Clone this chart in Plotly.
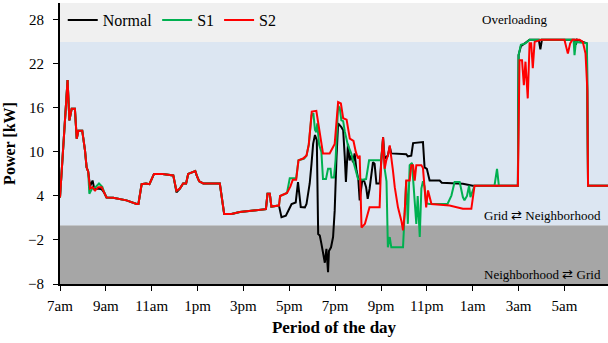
import plotly.graph_objects as go

# Hours elapsed since 7am and household power in kW
t_normal = [0.0, 0.2, 0.25, 0.33, 0.41, 0.51, 0.65, 0.73, 0.80, 0.97, 1.09, 1.16, 1.23, 1.31, 1.42, 1.5,
            1.65, 1.82, 1.92, 2.03, 2.32, 2.9, 3.34, 3.42, 3.56, 3.75, 3.9, 4.1, 4.47, 4.94, 5.08, 5.23,
            5.37, 5.5, 5.59, 5.81, 5.9, 5.96, 6.07, 6.25, 6.97, 7.16, 7.48, 7.84, 8.5, 8.86, 8.98, 9.05,
            9.15, 9.22, 9.51, 9.55, 9.66, 9.85, 10.0, 10.1, 10.28, 10.38, 10.5, 10.68, 10.75, 10.8, 10.89,
            10.97, 11.04, 11.12, 11.2, 11.26, 11.33, 11.4, 11.47, 11.55, 11.62, 11.69, 11.73, 11.82, 11.91,
            11.98, 12.06, 12.13, 12.27, 12.35, 12.42, 12.47, 12.56, 12.63, 12.7, 12.78, 12.85, 12.93, 13.01,
            13.07, 13.18, 13.27, 13.35, 13.42, 13.5, 13.58, 13.65, 13.72, 13.8, 13.94, 14.01, 14.09, 14.16,
            14.3, 14.38, 14.45, 15.1, 15.17, 15.32, 15.4, 15.83, 15.9, 16.0, 16.12, 16.56, 16.65, 17.57,
            18.0, 19.97, 20.0, 20.1, 20.48, 20.88, 20.95, 21.02, 22.45, 22.5, 22.55, 22.98, 23.03, 23.9]
p_normal = [3.8, 13.5, 17.0, 19.8, 14.3, 15.9, 15.9, 11.8, 12.9, 12.9, 10.2, 7.9, 7.3, 5.3, 6.1, 4.9,
            5.0, 4.9, 4.5, 3.8, 3.75, 3.4, 2.9, 2.9, 5.6, 5.7, 5.6, 7.0, 7.0, 6.8, 4.5, 5.0,
            5.7, 5.7, 7.0, 7.3, 7.4, 6.8, 6.0, 5.7, 5.7, 1.55, 1.55, 1.8, 2.0, 2.2, 2.2, 4.3,
            4.3, 2.55, 2.7, 2.7, 1.1, 1.3, 2.25, 2.9, 3.1, 5.9, 2.5, 2.45, 2.9, 3.85, 5.7,
            8.4, 11.1, 12.3, 11.6, -1.2, -1.4, -2.5, -3.9, -5.1, -3.2, -6.4, -3.5, -3.0, -1.6,
            2.0, 9.3, 13.9, 13.4, 12.95, 9.3, 5.9, 11.1, 8.85, 9.5, 8.6, 9.8, 7.5, 6.3,
            3.4, 6.1, 6.0, 5.2, 3.6, 4.95, 7.25, 8.6, 8.4, 5.7, 5.7, 8.85, 12.0, 9.1,
            9.5, 10.7, 9.8, 9.7, 9.4, 9.5, 11.2, 11.35, 7.9, 7.7, 6.1, 6.1, 5.8, 5.65,
            5.4, 5.4, 23.2, 24.4, 25.3, 25.3, 24.0, 25.3, 25.3, 24.6, 25.3, 24.8, 5.4, 5.4]

t_s1 = [0.0, 0.2, 0.25, 0.33, 0.41, 0.51, 0.65, 0.73, 0.80, 0.97, 1.09, 1.16, 1.23, 1.28, 1.4, 1.55,
        1.7, 1.85, 1.95, 2.03, 2.32, 2.9, 3.34, 3.42, 3.56, 3.75, 3.9, 4.1, 4.47, 4.94, 5.08, 5.23,
        5.37, 5.5, 5.59, 5.81, 5.9, 5.96, 6.07, 6.25, 6.97, 7.16, 7.48, 7.84, 8.5, 8.86, 8.98, 9.05,
        9.15, 9.22, 9.51, 9.55, 9.6, 9.9, 10.02, 10.3, 10.4, 10.65, 10.75, 10.85, 10.97, 11.05, 11.12,
        11.18, 11.22, 11.3, 11.4, 11.47, 11.6, 11.69, 11.8, 11.84, 11.95, 12.02, 12.13, 12.2, 12.27,
        12.35, 12.42, 12.55, 12.7, 12.85, 13.0, 13.2, 13.35, 13.48, 14.0, 14.09, 14.16, 14.24, 14.3,
        14.38, 14.45, 14.96, 15.0, 15.1, 15.17, 15.25, 15.35, 15.45, 15.54, 15.6, 15.69, 15.76, 15.83,
        15.9, 15.97, 16.1, 16.9, 17.07, 17.21, 17.43, 17.57, 17.64, 17.75, 17.84, 17.9, 18.08, 18.95,
        19.06, 19.14, 19.97, 20.0, 20.1, 20.3, 20.48, 22.4, 22.44, 22.5, 22.98, 23.03, 23.9]
p_s1 = [3.8, 13.5, 17.0, 19.8, 14.3, 15.9, 15.9, 11.8, 12.9, 12.9, 10.2, 7.9, 7.3, 4.3, 5.0, 5.2,
        5.7, 5.2, 4.3, 3.8, 3.75, 3.4, 2.9, 2.9, 5.6, 5.7, 5.6, 7.0, 7.0, 6.8, 4.7, 5.0,
        5.7, 5.7, 7.0, 7.3, 7.4, 6.8, 6.0, 5.7, 5.7, 1.55, 1.55, 1.8, 2.0, 2.2, 2.2, 4.3,
        4.3, 2.55, 2.7, 2.7, 4.0, 4.4, 6.4, 6.4, 8.85, 9.1, 9.5, 11.0, 15.0, 15.3, 13.0,
        12.7, 13.9, 11.0, 10.0, 6.3, 6.3, 7.7, 7.7, 6.5, 6.5, 9.0, 16.3, 16.0, 14.3,
        14.2, 12.8, 11.0, 9.8, 8.0, 6.3, 6.2, 6.3, 8.85, 8.85, 11.6, 7.7, 6.0, -3.0,
        -1.6, -3.0, -3.0, 0.2, 6.1, 0.2, 8.2, 8.5, 4.0, 0.2, 4.0, -1.6, 5.0, 6.0,
        5.3, 3.0, 2.9, 2.9, 4.05, 5.9, 5.9, 3.85, 3.4, 4.0, 5.4, 3.85, 5.4, 5.4,
        7.7, 5.4, 5.4, 23.2, 24.6, 24.8, 25.3, 25.3, 23.2, 25.0, 24.8, 5.4, 5.4]

t_s2 = [0.0, 0.2, 0.25, 0.33, 0.41, 0.51, 0.65, 0.73, 0.80, 0.97, 1.09, 1.16, 1.23, 1.31, 1.41, 1.53,
        1.67, 1.82, 1.92, 2.03, 2.32, 2.9, 3.34, 3.42, 3.56, 3.75, 3.9, 4.1, 4.47, 4.94, 5.08, 5.23,
        5.37, 5.5, 5.59, 5.81, 5.9, 5.96, 6.07, 6.25, 6.97, 7.16, 7.48, 7.84, 8.5, 8.86, 8.98, 9.05,
        9.15, 9.22, 9.51, 9.55, 9.6, 9.9, 10.05, 10.15, 10.3, 10.4, 10.6, 10.75, 10.85, 10.98, 11.18,
        11.26, 11.4, 11.47, 11.76, 11.98, 12.13, 12.25, 12.35, 12.5, 12.64, 12.8, 12.9, 13.0, 13.07,
        13.15, 13.3, 13.5, 13.94, 14.01, 14.09, 14.16, 14.23, 14.3, 14.38, 14.45, 14.52, 14.6, 14.74,
        14.89, 14.96, 15.03, 15.1, 15.25, 15.32, 15.4, 15.47, 15.54, 15.76, 15.83, 15.9, 15.97, 16.05,
        16.12, 16.2, 16.99, 17.57, 17.94, 18.08, 19.97, 20.04, 20.15, 20.23, 20.3, 20.4, 20.48, 20.55,
        20.62, 20.7, 20.99, 22.0, 22.15, 22.25, 22.35, 22.66, 22.8, 22.92, 23.0, 23.03, 23.9]
p_s2 = [3.8, 13.5, 17.0, 19.8, 14.3, 15.9, 15.9, 11.8, 12.9, 12.9, 10.2, 7.9, 7.3, 5.0, 5.2, 4.75,
        5.2, 5.2, 4.5, 3.8, 3.75, 3.4, 2.9, 2.9, 5.6, 5.7, 5.6, 7.0, 7.0, 6.8, 4.7, 5.0,
        5.7, 5.7, 7.0, 7.3, 7.4, 6.8, 6.0, 5.7, 5.7, 1.55, 1.55, 1.8, 2.0, 2.2, 2.2, 4.3,
        4.3, 2.55, 2.7, 2.7, 4.0, 4.4, 5.3, 6.2, 6.2, 8.85, 9.1, 9.5, 11.0, 15.5, 15.6,
        13.9, 11.1, 9.8, 9.8, 11.1, 16.8, 16.6, 14.6, 14.4, 11.8, 11.5, 10.0, 9.1, 9.5,
        -0.3, 0.2, 2.45, 2.45, 8.85, 12.0, 7.7, 8.85, 9.5, 10.9, 9.5, 7.5, 5.2, 2.45,
        0.6, -0.7, 1.55, 6.1, 6.1, 8.2, 8.2, 6.1, 8.2, 8.2, 7.8, 4.75, 2.45, 4.75,
        4.0, 2.9, 2.7, 2.25, 2.25, 5.4, 5.4, 22.5, 22.5, 19.1, 22.3, 17.3, 24.8, 24.8,
        21.4, 25.0, 25.3, 25.3, 23.4, 24.8, 25.3, 25.3, 25.0, 23.4, 18.4, 5.4, 5.4]

tick_hours = [0, 2, 4, 6, 8, 10, 12, 14, 16, 18, 20, 22]
tick_text = ["7am", "9am", "11am", "1pm", "3pm", "5pm", "7pm", "9pm", "11pm", "1am", "3am", "5am"]
y_ticks = [-8, -2, 4, 10, 16, 22, 28]

SERIF = "Liberation Serif, Times New Roman, serif"

fig = go.Figure()
fig.add_trace(go.Scatter(x=t_normal, y=p_normal, mode="lines", name="Normal",
                         line=dict(color="#000000", width=2)))
fig.add_trace(go.Scatter(x=t_s1, y=p_s1, mode="lines", name="S1",
                         line=dict(color="#00b050", width=2)))
fig.add_trace(go.Scatter(x=t_s2, y=p_s2, mode="lines", name="S2",
                         line=dict(color="#ff0000", width=2)))

Y_MIN, Y_MAX = -8, 30.3
# operating zones: export below 0, normal range up to 25 kW, overloading above
bands = [(Y_MIN, 0, "#a6a6a6"), (0, 25, "#dce6f2"), (25, Y_MAX, "#f0f0f0")]
for y0, y1, col in bands:
    fig.add_shape(type="rect", xref="paper", yref="y", x0=0, x1=1, y0=y0, y1=y1,
                  fillcolor=col, line=dict(width=0), layer="below")

ann_font = dict(family=SERIF, size=13, color="#000000")
fig.add_annotation(x=0.83, y=28.0, xref="paper", yref="y", text="Overloading",
                   showarrow=False, font=ann_font, xanchor="center", yanchor="middle")
fig.add_annotation(x=0.99, y=1.3, xref="paper", yref="y", text="Grid ⇄ Neighborhood",
                   showarrow=False, font=ann_font, xanchor="right", yanchor="middle")
fig.add_annotation(x=0.99, y=-6.7, xref="paper", yref="y", text="Neighborhood ⇄ Grid",
                   showarrow=False, font=ann_font, xanchor="right", yanchor="middle")

fig.update_layout(
    width=608, height=343,
    margin=dict(l=60, r=0, t=3, b=59),
    paper_bgcolor="white", plot_bgcolor="white",
    font=dict(family=SERIF, size=15, color="#000000"),
    showlegend=True,
    legend=dict(orientation="h", x=0.005, y=1.0, xanchor="left", yanchor="top",
                bgcolor="rgba(0,0,0,0)", font=dict(family=SERIF, size=16),
                itemwidth=30, tracegroupgap=0),
    xaxis=dict(range=[0, 23.9], tickmode="array", tickvals=tick_hours, ticktext=tick_text,
               showgrid=False, zeroline=False, showline=True, linecolor="#000000", linewidth=2,
               ticks="outside", ticklen=5, tickwidth=1, tickcolor="#000000",
               ticklabelstandoff=2,
               title=dict(text="<b>Period of the day</b>", font=dict(family=SERIF, size=17),
                          standoff=8)),
    yaxis=dict(range=[Y_MIN, Y_MAX], tickmode="array", tickvals=y_ticks,
               showgrid=False, zeroline=False, showline=True, linecolor="#000000", linewidth=2,
               ticks="outside", ticklen=5, tickwidth=1, tickcolor="#000000",
               ticklabelstandoff=6,
               title=dict(text="<b>Power [kW]</b>", font=dict(family=SERIF, size=16),
                          standoff=8)),
)

fig.write_html("out.html")
